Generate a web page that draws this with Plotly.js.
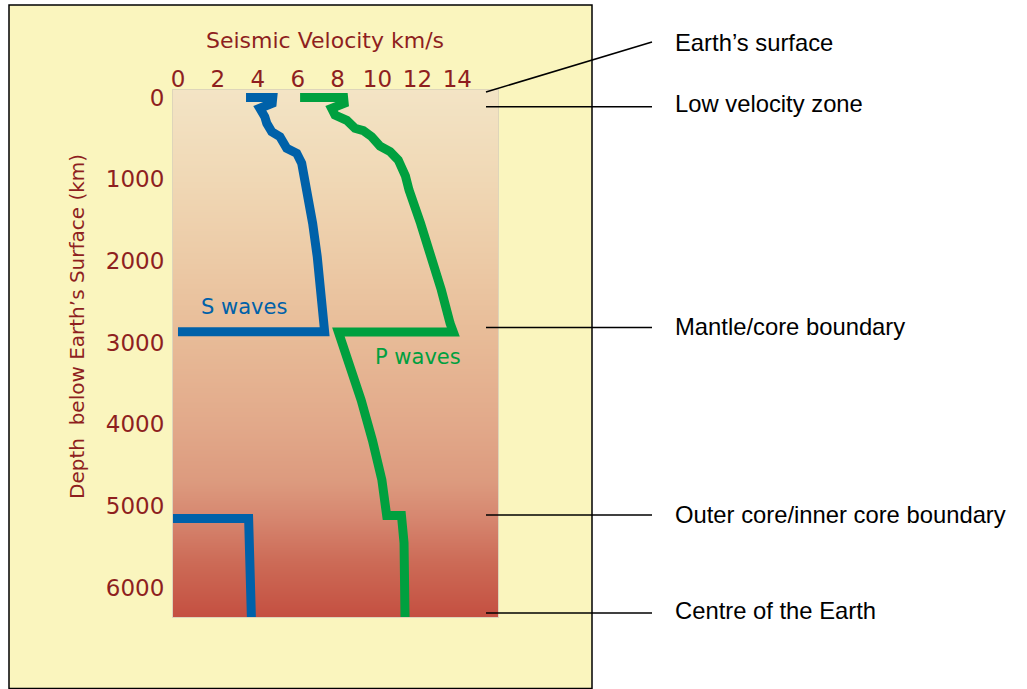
<!DOCTYPE html>
<html>
<head>
<meta charset="utf-8">
<script src="https://cdn.plot.ly/plotly-3.0.1.min.js"></script>
<style>html,body{margin:0;padding:0;background:#fff;}#chart{width:1027px;height:689px;}</style>
</head>
<body>
<div id="chart"></div>
<script>
// ---- Data ----
// S waves: velocity (km/s) vs depth (km); null breaks the line (liquid outer core)
const sVelocity = [3.41, 4.75, 4.72, 4.10, 4.35, 4.45, 4.70, 5.11, 5.45, 5.95, 6.20, 6.45, 6.60, 6.75, 6.98, 7.18, 7.33, 7.35, 0.0, null, -0.3, 3.54, 3.68];
const sDepth    = [0,    0,    70,   132,  235,  316,  419,  480,  622,  683,  805,  1092, 1300, 1540, 1948, 2356, 2764, 2866, 2866, null, 5151, 5151, 6371];

// P waves
const pVelocity = [6.12, 8.30, 8.33, 7.70, 7.87, 8.46, 8.87, 9.29, 9.71, 10.13, 10.63, 11.04, 11.40, 11.58, 12.16, 12.70, 13.20, 13.64, 13.80, 8.04, 8.62, 9.18, 9.75, 10.22, 10.46, 11.20, 11.33, 11.38, 11.38];
const pDepth    = [0,    0,    71,   132,  214,  280,  377,  405,  480,  595,   663,   765,   960,   1132,  1540,  1948,  2356,  2764,  2870,  2870, 3290, 3703, 4200, 4682,  5115,  5115,  5450,  5800,  6371];

// Axis ticks
const velocityTicks = [0, 2, 4, 6, 8, 10, 12, 14];
const depthTicks = [0, 1000, 2000, 3000, 4000, 5000, 6000];

// Background gradient stops (depth -> colour)
const bgDepth  = [-92, 1000, 2000, 2870, 4000, 4700, 5150, 5700, 6371];
const bgColour = ['#F3E4C5', '#F0D8B5', '#ECCAA6', '#E8BC98', '#E2A98A', '#DC9A7E', '#D6866F', '#CC6A56', '#C44F40'];

// Labels
const boundaryLabels = ['Earth\u2019s surface', 'Low velocity zone', 'Mantle/core boundary', 'Outer core/inner core boundary', 'Centre of the Earth'];

// ---- Layout geometry ----
const W = 1027, H = 689;
const L = 173, R = 498, T = 90, B = 617;
const px = x => (x - L) / (R - L);
const py = y => (B - y) / (B - T);

const maroon = '#8E1F1F';
const blue = '#0061A9';
const green = '#00A03F';
const yellow = '#FAF5BE';
const tickFont = {family: 'DejaVu Sans', size: 23, color: maroon};

const dMin = bgDepth[0], dMax = bgDepth[bgDepth.length - 1];
const bgScale = bgDepth.map((d, i) => [(d - dMin) / (dMax - dMin), bgColour[i]]);

const traces = [
  {
    type: 'heatmap',
    x: [-0.25, 16.04],
    y: bgDepth,
    z: bgDepth.map(d => [d, d]),
    zmin: dMin, zmax: dMax,
    colorscale: bgScale,
    zsmooth: 'best',
    showscale: false,
    hoverinfo: 'skip'
  },
  {
    type: 'scatter', mode: 'lines', name: 'S waves',
    x: sVelocity, y: sDepth,
    line: {color: blue, width: 9},
    connectgaps: false, hoverinfo: 'skip'
  },
  {
    type: 'scatter', mode: 'lines', name: 'P waves',
    x: pVelocity, y: pDepth,
    line: {color: green, width: 9},
    hoverinfo: 'skip'
  }
];

const labelY = [42, 103, 326, 514, 610];
const annotations = [
  {xref: 'paper', yref: 'paper', x: px(325), y: py(41), xanchor: 'center', yanchor: 'middle',
   text: 'Seismic Velocity km/s', showarrow: false, font: {family: 'DejaVu Sans', size: 22, color: maroon}},
  {xref: 'paper', yref: 'paper', x: px(77), y: py(326), xanchor: 'center', yanchor: 'middle', textangle: -90,
   text: 'Depth  below Earth\u2019s Surface (km)', showarrow: false, font: {family: 'DejaVu Sans', size: 20, color: maroon}},
  {xref: 'x', yref: 'y', x: 3.33, y: 2561, xanchor: 'center', yanchor: 'middle',
   text: 'S waves', showarrow: false, font: {family: 'DejaVu Sans', size: 21, color: blue}},
  {xref: 'x', yref: 'y', x: 12.05, y: 3173, xanchor: 'center', yanchor: 'middle',
   text: 'P waves', showarrow: false, font: {family: 'DejaVu Sans', size: 21, color: green}}
];
boundaryLabels.forEach((t, i) => annotations.push({
  xref: 'paper', yref: 'paper', x: px(673), y: py(labelY[i]), xanchor: 'left', yanchor: 'middle',
  text: t, showarrow: false, font: {family: 'Liberation Sans, Arial', size: 23.8, color: '#000'}
}));

const lineStyle = {color: '#000', width: 1.6};
const shapes = [
  {type: 'rect', xref: 'paper', yref: 'paper', x0: px(9), x1: px(592), y0: py(688.5), y1: py(5),
   fillcolor: yellow, line: {color: '#000', width: 1.5}, layer: 'below'},
  {type: 'line', xref: 'paper', yref: 'paper', x0: px(486), y0: py(92), x1: px(652), y1: py(42), line: lineStyle, layer: 'above'}
];
[106.7, 327.5, 515, 613].forEach(y => shapes.push(
  {type: 'line', xref: 'paper', yref: 'paper', x0: px(486), y0: py(y), x1: px(652), y1: py(y), line: lineStyle, layer: 'above'}
));

const layout = {
  width: W, height: H,
  margin: {l: L, r: W - R, t: T, b: H - B, pad: 0},
  paper_bgcolor: '#FFFFFF',
  plot_bgcolor: 'rgba(0,0,0,0)',
  showlegend: false,
  xaxis: {
    side: 'top', range: [-0.25, 16.04], tickvals: velocityTicks, ticktext: velocityTicks.map(String),
    ticks: '', showgrid: false, zeroline: false, tickfont: tickFont, ticklabelstandoff: -7,
    showline: true, mirror: true, linecolor: 'rgba(215,205,185,0.8)', linewidth: 1
  },
  yaxis: {
    range: [6358, -92], tickvals: depthTicks, ticktext: depthTicks.map(String),
    ticks: '', showgrid: false, zeroline: false, tickfont: tickFont, ticklabelstandoff: 3,
    showline: true, mirror: true, linecolor: 'rgba(215,205,185,0.8)', linewidth: 1
  },
  annotations: annotations,
  shapes: shapes
};

Plotly.newPlot('chart', traces, layout, {displayModeBar: false, staticPlot: true});
</script>
</body>
</html>
